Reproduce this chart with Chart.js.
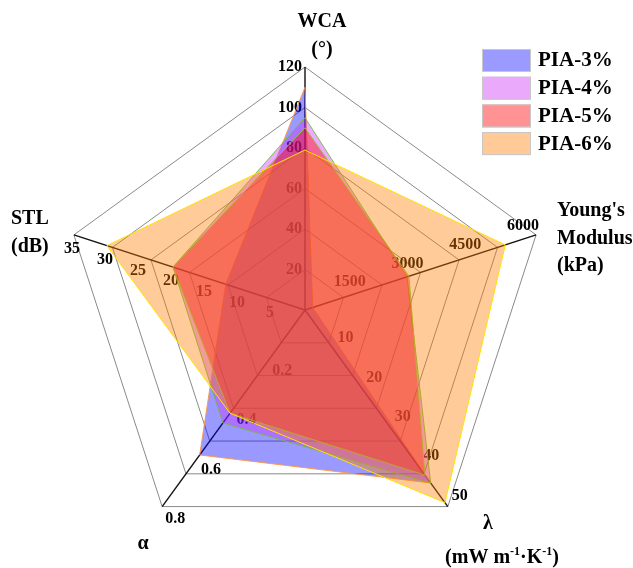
<!DOCTYPE html>
<html>
<head>
<meta charset="utf-8">
<title>PIA radar</title>
<script src="https://cdn.jsdelivr.net/npm/chart.js@4.4.1/dist/chart.umd.min.js"></script>
<style>
  html, body { margin: 0; padding: 0; background: #ffffff; }
  #wrap { width: 633px; height: 568px; position: relative; }
</style>
</head>
<body>
<div id="wrap"><canvas id="radar" width="633" height="568"></canvas></div>
<script>
// Axes, clockwise from the top
const axisNames = ["WCA", "Young's Modulus", "λ", "α", "STL"];
const axisMax = [120, 6000, 50, 0.8, 35];

// Tick labels shown along each axis
const wcaTicks = [20, 40, 60, 80, 100, 120];
const youngTicks = [1500, 3000, 4500, 6000];
const lambdaTicks = [10, 20, 30, 40, 50];
const alphaTicks = [0.2, 0.4, 0.6, 0.8];
const stlTicks = [5, 10, 15, 20, 25, 30, 35];

// Measured properties: WCA (°), Young's modulus (kPa), λ (mW m-1 K-1), α, STL (dB)
const pia3 = [110, 200, 44, 0.59, 12];
const pia4 = [95, 2650, 44, 0.46, 20];
const pia5 = [90, 2700, 42, 0.42, 20];
const pia6 = [79, 5200, 49, 0.42, 30];

const seriesNames = ["PIA-3%", "PIA-4%", "PIA-5%", "PIA-6%"];

const GRID_LEVELS = 6;
const norm = (vals) => vals.map((v, i) => v / axisMax[i] * GRID_LEVELS);

const serif = "'Liberation Serif', 'Times New Roman', serif";

const fills = ["rgba(0,0,255,0.40)", "rgba(204,51,255,0.40)", "rgba(255,0,0,0.42)", "rgba(255,128,0,0.40)"];
const edges = ["rgba(255,150,60,0.9)", "rgba(110,190,60,0.9)", "rgba(140,200,60,0.9)", "rgba(255,225,0,1)"];
const swatches = ["#9a9aff", "#eaa9fb", "#ff9393", "#ffca98"];

const tickLists = [wcaTicks, youngTicks, lambdaTicks, alphaTicks, stlTicks];
// label offsets from each tick position, per axis
const tickPlacement = [
  { dx: -3, dy: 0, align: "right" },
  { dx: -13, dy: -9, align: "center" },
  { dx: 12, dy: -11, align: "center" },
  { dx: 13, dy: 12, align: "center" },
  { dx: -2, dy: 14, align: "center" }
];

const fmt = (v) => (Math.abs(v) < 1 ? v.toFixed(1) : String(v));

const axisTickLabels = {
  id: "axisTickLabels",
  beforeDatasetsDraw(chart) {
    const r = chart.scales.r;
    const ctx = chart.ctx;
    ctx.save();
    ctx.font = "bold 16px " + serif;
    ctx.fillStyle = "#000000";
    ctx.textBaseline = "middle";
    tickLists.forEach((ticks, i) => {
      const p = tickPlacement[i];
      ctx.textAlign = p.align;
      ticks.forEach((t) => {
        const pt = r.getPointPositionForValue(i, t / axisMax[i] * GRID_LEVELS);
        ctx.fillText(fmt(t), pt.x + p.dx, pt.y + p.dy);
      });
    });
    ctx.restore();
  }
};

const titlesAndLegend = {
  id: "titlesAndLegend",
  afterDraw(chart) {
    const ctx = chart.ctx;
    ctx.save();
    ctx.fillStyle = "#000000";
    ctx.textBaseline = "middle";
    ctx.font = "bold 20px " + serif;

    ctx.textAlign = "center";
    ctx.fillText("WCA", 322, 22);
    ctx.fillText("(°)", 322, 50);

    ctx.textAlign = "left";
    ctx.fillText("Young's", 557, 211);
    ctx.fillText("Modulus", 557, 239);
    ctx.fillText("(kPa)", 557, 266);

    ctx.fillText("STL", 11, 219);
    ctx.fillText("(dB)", 11, 247);

    ctx.textAlign = "center";
    ctx.fillText("α", 143, 544);
    ctx.fillText("λ", 488, 524);

    // (mW m-1·K-1) with raised exponents
    const parts = [
      ["(mW m", false], ["-1", true], ["·K", false], ["-1", true], [")", false]
    ];
    const big = "bold 20px " + serif, small = "bold 12px " + serif;
    let total = 0;
    parts.forEach(([s, sup]) => { ctx.font = sup ? small : big; total += ctx.measureText(s).width; });
    let x = 502 - total / 2;
    ctx.textAlign = "left";
    parts.forEach(([s, sup]) => {
      ctx.font = sup ? small : big;
      ctx.fillText(s, x, sup ? 552 : 558);
      x += ctx.measureText(s).width;
    });

    // legend
    ctx.font = "bold 21px " + serif;
    seriesNames.forEach((name, k) => {
      const y = 49 + k * 27.7;
      ctx.fillStyle = swatches[k];
      ctx.fillRect(482, y, 49, 23);
      ctx.strokeStyle = "#c8c8c8";
      ctx.lineWidth = 1;
      ctx.strokeRect(482.5, y + 0.5, 48, 22);
      ctx.fillStyle = "#000000";
      ctx.fillText(name, 538, y + 12);
    });
    ctx.restore();
  }
};

const series = [pia3, pia4, pia5, pia6];

new Chart(document.getElementById("radar"), {
  type: "radar",
  data: {
    labels: axisNames,
    datasets: series.map((vals, k) => ({
      label: seriesNames[k],
      data: norm(vals),
      backgroundColor: fills[k],
      borderColor: edges[k],
      borderWidth: 1,
      fill: "origin",
      pointRadius: 0,
      pointHoverRadius: 0,
      tension: 0,
      order: series.length - 1 - k
    }))
  },
  options: {
    responsive: false,
    animation: false,
    devicePixelRatio: 1,
    layout: { padding: { left: 62, right: 85, top: 67, bottom: 15 } },
    plugins: { legend: { display: false }, tooltip: { enabled: false } },
    scales: {
      r: {
        min: 0,
        max: GRID_LEVELS,
        ticks: { display: false, stepSize: 1 },
        pointLabels: { display: false },
        grid: { color: "#8a8a8a", lineWidth: 1 },
        angleLines: { color: "#111111", lineWidth: 1.4 }
      }
    }
  },
  plugins: [axisTickLabels, titlesAndLegend]
});
</script>
</body>
</html>
